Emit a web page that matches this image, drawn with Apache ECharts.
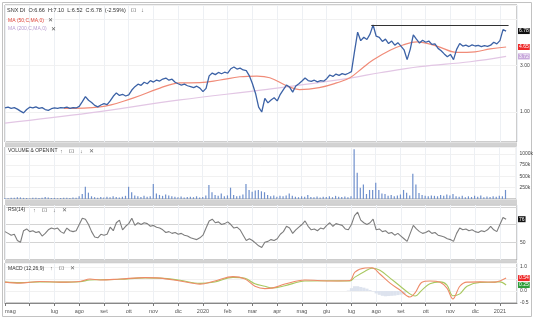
<!DOCTYPE html>
<html><head><meta charset="utf-8">
<script src="https://cdn.jsdelivr.net/npm/echarts@6/dist/echarts.min.js"></script>
<style>html,body{margin:0;padding:0;background:#fff}#c{width:536px;height:323px}</style>
</head><body><div id="c"></div><script>
// ---- data (x = months since 1 May 2019, sampled every 1/8 month) ----
const monthLabels = ['mag','','lug','ago','set','ott','nov','dic','2020','feb','mar','apr','mag','giu','lug','ago','set','ott','nov','dic','2021'];
const step = 0.125;
const price = [1.10,1.12,1.09,1.11,1.07,1.02,0.98,1.06,1.12,1.10,
1.13,1.09,1.11,1.06,1.04,1.08,1.10,1.09,1.11,1.10,
1.12,1.09,1.11,1.10,1.14,1.28,1.44,1.32,1.25,1.17,
1.13,1.18,1.22,1.19,1.30,1.45,1.57,1.48,1.52,1.46,
1.50,1.68,1.82,1.93,1.88,2.02,1.95,2.10,2.03,2.13,
2.08,2.18,2.23,2.12,2.17,2.02,1.95,1.89,1.93,1.86,
1.82,1.78,1.84,1.76,1.62,1.75,2.35,2.51,2.42,2.55,
2.47,2.56,2.50,2.78,2.90,2.76,2.82,2.70,2.66,2.35,
1.95,1.55,1.12,1.00,1.38,1.24,1.33,1.40,1.30,1.52,
1.70,1.89,1.80,1.60,1.85,1.95,2.08,2.23,2.10,2.06,
2.12,2.04,2.10,2.07,2.20,2.40,2.32,2.45,2.38,2.48,
2.42,2.50,2.60,4.20,6.60,5.40,5.85,5.55,6.30,7.82,
6.00,5.85,5.30,5.60,5.05,5.35,4.85,5.15,4.75,4.35,
3.45,4.40,6.20,5.60,5.10,5.45,5.20,5.35,4.95,5.00,
4.50,4.25,3.95,3.70,3.90,3.45,4.40,5.05,4.75,4.85,
4.70,4.88,4.76,4.82,4.68,4.80,4.72,4.85,5.20,5.00,
5.40,7.00,6.78];
const ma50 = [[2.38,1.09],[3.84,1.13],[5.17,1.39],[6.26,1.76],[7.07,1.99],[7.88,2.00],[8.69,2.13],[9.49,2.30],[10.18,2.34],[10.7,2.25],[11.4,1.85],[11.9,1.70],[12.7,1.78],[13.4,1.99],[13.94,2.25],[14.46,2.85],[14.87,3.42],[15.56,4.30],[16.08,4.88],[16.65,5.25],[17.45,4.75],[18.26,4.10],[18.99,4.15],[19.6,4.45],[20.25,4.65]];
const ma200 = [[0,0.77],[3.43,0.98],[7.07,1.33],[10.6,1.71],[13.94,2.23],[15.15,2.53],[16.77,2.92],[18.8,3.28],[20.25,3.72]];
const resistance = [14.8, 20.35, 7.82]; // from, to, level
const volume = [20,15,30,25,40,35,25,20,15,30,
25,20,30,45,35,20,25,15,20,30,
25,20,35,30,60,110,270,140,60,40,
30,45,35,50,40,60,45,35,50,70,
270,150,80,60,45,70,50,60,330,120,
90,70,100,80,60,50,40,55,35,45,
50,40,60,35,45,80,310,150,90,70,
120,60,80,250,90,60,70,100,330,200,
160,190,200,170,150,90,60,80,50,70,
60,80,120,70,50,40,60,50,90,45,
40,55,35,50,45,60,40,70,50,45,
55,40,60,1100,580,250,320,110,200,200,
360,200,120,110,70,90,60,80,100,200,
140,80,560,320,130,90,70,60,80,70,
60,90,70,100,80,110,60,50,70,40,
60,45,70,50,80,40,55,45,60,50,
70,60,200];
const rsi = [62,60,58,59,52,50,63,65,62,63,
61,62,57,60,64,66,65,66,62,60,
66,63,62,63,70,77,76,70,62,56,
55,59,58,59,67,63,72,75,64,68,
71,77,69,72,70,72,71,68,69,67,
66,64,61,62,60,61,59,60,58,57,
55,54,53,55,58,66,74,76,72,73,
70,71,73,70,66,67,64,58,52,54,
52,49,46,44,50,51,53,52,54,59,
62,68,66,60,64,67,70,74,68,64,
65,63,66,65,69,72,68,71,70,69,
65,64,70,80,84,75,72,70,72,76,
64,65,62,63,60,61,58,60,57,54,
51,60,69,65,62,60,61,63,60,61,
58,57,56,54,53,51,60,66,64,65,
63,64,62,61,63,62,64,68,64,62,
70,78,76];
const macd = [[0,0.37],[0.61,0.33],[1.41,0.40],[2.22,0.37],[3.03,0.40],[3.43,0.50],[3.84,0.46],[4.65,0.50],[5.66,0.56],[6.26,0.54],[7.07,0.42],[7.88,0.29],[8.48,0.42],[9.21,0.60],[9.7,0.50],[10.1,0.20],[10.5,0.10],[10.79,0.12],[11.31,0.29],[12.12,0.46],[13.13,0.42],[13.94,0.44],[14.14,0.79],[14.55,0.96],[14.83,0.97],[15.15,0.71],[15.56,0.33],[15.96,0.04],[16.36,-0.25],[16.57,-0.08],[16.85,0.37],[17.17,0.42],[17.58,0.37],[17.86,0.12],[18.1,-0.33],[18.38,0.20],[18.67,0.37],[19.19,0.38],[19.8,0.37],[20.0,0.42],[20.25,0.54]];
const signal = [[0,0.37],[0.61,0.35],[1.41,0.38],[2.22,0.37],[3.03,0.39],[3.43,0.46],[3.84,0.47],[4.65,0.49],[5.66,0.55],[6.26,0.54],[7.07,0.45],[7.88,0.32],[8.48,0.38],[9.21,0.57],[9.7,0.53],[10.1,0.30],[10.5,0.20],[10.79,0.13],[11.31,0.22],[12.12,0.42],[13.13,0.43],[13.94,0.42],[14.14,0.58],[14.55,0.83],[14.83,0.95],[15.15,0.87],[15.56,0.54],[15.96,0.21],[16.36,-0.12],[16.57,-0.21],[16.85,0.04],[17.17,0.30],[17.58,0.38],[17.86,0.25],[18.1,-0.20],[18.38,-0.12],[18.67,0.20],[19.19,0.36],[19.8,0.37],[20.0,0.38],[20.25,0.25]];
const macdHist = [[13.875,0.02],[14,0.12],[14.125,0.2],[14.25,0.2],[14.375,0.17],[14.5,0.14],[14.625,0.1],[14.75,0.04],[14.875,-0.02],[15,-0.1],[15.125,-0.16],[15.25,-0.2],[15.375,-0.22],[15.5,-0.21],[15.625,-0.2],[15.75,-0.19],[15.875,-0.17],[16,-0.15],[16.125,-0.13]];
const priceTicks = [1, 3];
const volTicks = [250, 500, 750, 1000];
const rsiTicks = [50];
const macdTicks = [1.0, 0.5, 0.0, -0.5];
const header = 'SNX DI  O:6.66  H:7.10  L:6.52  C:6.78  (-2.59%)';

// ---- chart ----
const FONT = '"Liberation Sans", Arial, sans-serif';
const withX = arr => arr.map((v, i) => [i * step, v]);
const last = arr => { const e = arr[arr.length - 1]; return Array.isArray(e) ? e[1] : e; };
const xMax = 20.69;
const grids = [
  {left: 5, right: 19, top: 5, height: 137},
  {left: 5, right: 19, top: 147, height: 52},
  {left: 5, right: 19, top: 205, height: 55},
  {left: 5, right: 19, top: 263, height: 40}
].map(g => Object.assign(g, {show: true, borderColor: '#9a9a9a', borderWidth: 1}));

function xAx(gi, show) {
  return {type: 'value', gridIndex: gi, min: 0, max: xMax, interval: 1,
    axisLine: {show: show, onZero: false, lineStyle: {color: '#888'}},
    axisTick: {show: show, length: 3, lineStyle: {color: '#777'}},
    axisLabel: {show: show, fontSize: 5.5, color: '#555', fontFamily: FONT, margin: 5,
      showMaxLabel: false, alignMinLabel: 'left',
      formatter: v => Number.isInteger(v) ? (monthLabels[v] || '') : ''},
    splitLine: {show: true, lineStyle: {color: '#edf0f4', width: 1}}};
}
function match(list, v) { return list.some(t => Math.abs(t - v) < 1e-6); }
function yLab(fmt) {
  return {fontSize: 5, color: '#444', fontFamily: FONT, margin: 3, formatter: fmt};
}
function boxLabel(val, digits, bg, fg) {
  return {yAxis: val, lineStyle: {color: 'rgba(0,0,0,0)', width: 1, opacity: 1},
    label: {show: true, position: 'end', distance: 1, formatter: val.toFixed(digits), opacity: 1,
      backgroundColor: bg, color: fg, fontSize: 5, fontFamily: FONT, padding: [1, 1, 0, 1]}};
}
const mlBase = {silent: true, symbol: 'none', animation: false};

const option = {
  animation: false,
  backgroundColor: '#fff',
  grid: grids,
  xAxis: [xAx(0, false), xAx(1, false), xAx(2, false), xAx(3, true)],
  yAxis: [
    {type: 'log', logBase: 3, gridIndex: 0, position: 'right', min: 0.492, max: 12.55,
      axisLine: {show: false}, axisTick: {show: false},
      axisLabel: yLab(v => match(priceTicks, v) ? v.toFixed(2) : ''),
      splitLine: {show: true, lineStyle: {color: '#f1f1f1'}}},
    {type: 'value', gridIndex: 1, position: 'right', min: 0, max: 1150, interval: 250,
      axisLine: {show: false}, axisTick: {show: false},
      axisLabel: yLab(v => match(volTicks, v) ? v + 'k' : ''),
      splitLine: {show: true, lineStyle: {color: '#f1f1f1'}}},
    {type: 'value', gridIndex: 2, position: 'right', min: 30, max: 92, interval: 20,
      axisLine: {show: false}, axisTick: {show: false},
      axisLabel: yLab(v => match(rsiTicks, v) ? String(v) : ''),
      splitLine: {show: true, lineStyle: {color: '#d4d4d4'}}},
    {type: 'value', gridIndex: 3, position: 'right', min: -0.5, max: 1.17, interval: 0.5,
      axisLine: {show: false}, axisTick: {show: false},
      axisLabel: yLab(v => match(macdTicks, v) ? v.toFixed(1) : ''),
      splitLine: {show: true, lineStyle: {color: '#f1f1f1'}}}
  ],
  series: [
    {type: 'line', name: 'MA200', xAxisIndex: 0, yAxisIndex: 0, data: ma200, smooth: 0.4,
      showSymbol: false, lineStyle: {color: '#e2c6e4', width: 1.2},
      markLine: Object.assign({}, mlBase, {data: [boxLabel(last(ma200), 2, '#c9a9dc', '#fff')]})},
    {type: 'line', name: 'MA50', xAxisIndex: 0, yAxisIndex: 0, data: ma50, smooth: 0.4,
      showSymbol: false, lineStyle: {color: '#f08b78', width: 1.2},
      markLine: Object.assign({}, mlBase, {data: [boxLabel(last(ma50), 2, '#ee2a2a', '#fff')]})},
    {type: 'line', name: 'SNX', xAxisIndex: 0, yAxisIndex: 0, data: withX(price),
      showSymbol: false, lineStyle: {color: '#3c62a6', width: 1.3},
      markLine: Object.assign({}, mlBase, {data: [
        boxLabel(last(price), 2, '#111', '#fff'),
        [{coord: [resistance[0], resistance[2]], lineStyle: {color: '#333', width: 1, type: 'solid', opacity: 1}, label: {show: false}},
         {coord: [resistance[1], resistance[2]]}]
      ]})},
    {type: 'bar', name: 'Volume', xAxisIndex: 1, yAxisIndex: 1, data: withX(volume),
      barWidth: 1.2, itemStyle: {color: '#6f90cc'}},
    {type: 'line', name: 'RSI', xAxisIndex: 2, yAxisIndex: 2, data: withX(rsi),
      showSymbol: false, lineStyle: {color: '#7d7d7d', width: 1.1},
      markLine: Object.assign({}, mlBase, {data: [boxLabel(last(rsi), 0, '#111', '#fff')]})},
    {type: 'bar', name: 'Hist', xAxisIndex: 3, yAxisIndex: 3, data: macdHist,
      barWidth: 3.2, itemStyle: {color: '#dde3ee'}},
    {type: 'line', name: 'Signal', xAxisIndex: 3, yAxisIndex: 3, data: signal, smooth: 0.35,
      showSymbol: false, lineStyle: {color: '#a8c860', width: 1.1},
      markLine: Object.assign({}, mlBase, {data: [boxLabel(last(signal), 2, '#2e9e3a', '#fff')]})},
    {type: 'line', name: 'MACD', xAxisIndex: 3, yAxisIndex: 3, data: macd, smooth: 0.35,
      showSymbol: false, lineStyle: {color: '#ee8a68', width: 1.1},
      markLine: Object.assign({}, mlBase, {data: [boxLabel(last(macd), 2, '#ee2a2a', '#fff')]})}
  ],
  graphic: [
    {type: 'rect', z: -5, shape: {x: 2.5, y: 2.5, width: 529, height: 314}, style: {fill: 'none', stroke: '#c2c2c2', lineWidth: 1}},
    {type: 'rect', z: 10, shape: {x: 5, y: 142.5, width: 512, height: 4}, style: {fill: '#d2d2d2'}},
    {type: 'rect', z: 10, shape: {x: 5, y: 199.5, width: 512, height: 5}, style: {fill: '#d2d2d2'}},
    {type: 'rect', z: 10, shape: {x: 5, y: 260.5, width: 512, height: 2}, style: {fill: '#d2d2d2'}},
    {type: 'text', z: 20, x: 7, y: 10, style: {text: header, font: '5.5px ' + FONT, fill: '#333', verticalAlign: 'middle'}},
    {type: 'text', z: 20, x: 131, y: 10, style: {text: '⊡   ↓', font: '6px ' + FONT, fill: '#666', verticalAlign: 'middle'}},
    {type: 'text', z: 20, x: 8, y: 20.5, style: {text: 'MA (50,C,MA,0)', font: '5px ' + FONT, fill: '#e0453a', verticalAlign: 'middle'}},
    {type: 'text', z: 20, x: 48, y: 20.5, style: {text: '✕', font: '5.5px ' + FONT, fill: '#555', verticalAlign: 'middle'}},
    {type: 'text', z: 20, x: 8, y: 29, style: {text: 'MA (200,C,MA,0)', font: '5px ' + FONT, fill: '#b79bd0', verticalAlign: 'middle'}},
    {type: 'text', z: 20, x: 51, y: 29, style: {text: '✕', font: '5.5px ' + FONT, fill: '#555', verticalAlign: 'middle'}},
    {type: 'text', z: 20, x: 8, y: 151, style: {text: 'VOLUME & OPENINT', font: '5px ' + FONT, fill: '#333', verticalAlign: 'middle'}},
    {type: 'text', z: 20, x: 60, y: 151, style: {text: '↑    ⊡    ↓    ✕', font: '5.5px ' + FONT, fill: '#666', verticalAlign: 'middle'}},
    {type: 'text', z: 20, x: 8, y: 210, style: {text: 'RSI(14)', font: '5px ' + FONT, fill: '#333', verticalAlign: 'middle'}},
    {type: 'text', z: 20, x: 33, y: 210, style: {text: '↑    ⊡    ↓    ✕', font: '5.5px ' + FONT, fill: '#666', verticalAlign: 'middle'}},
    {type: 'text', z: 20, x: 8, y: 268.5, style: {text: 'MACD (12,26,9)', font: '5px ' + FONT, fill: '#333', verticalAlign: 'middle'}},
    {type: 'text', z: 20, x: 50, y: 268.5, style: {text: '↑    ⊡    ✕', font: '5.5px ' + FONT, fill: '#666', verticalAlign: 'middle'}}
  ]
};
const chart = echarts.init(document.getElementById('c'), null, {renderer: 'canvas'});
chart.setOption(option);
</script></body></html>
